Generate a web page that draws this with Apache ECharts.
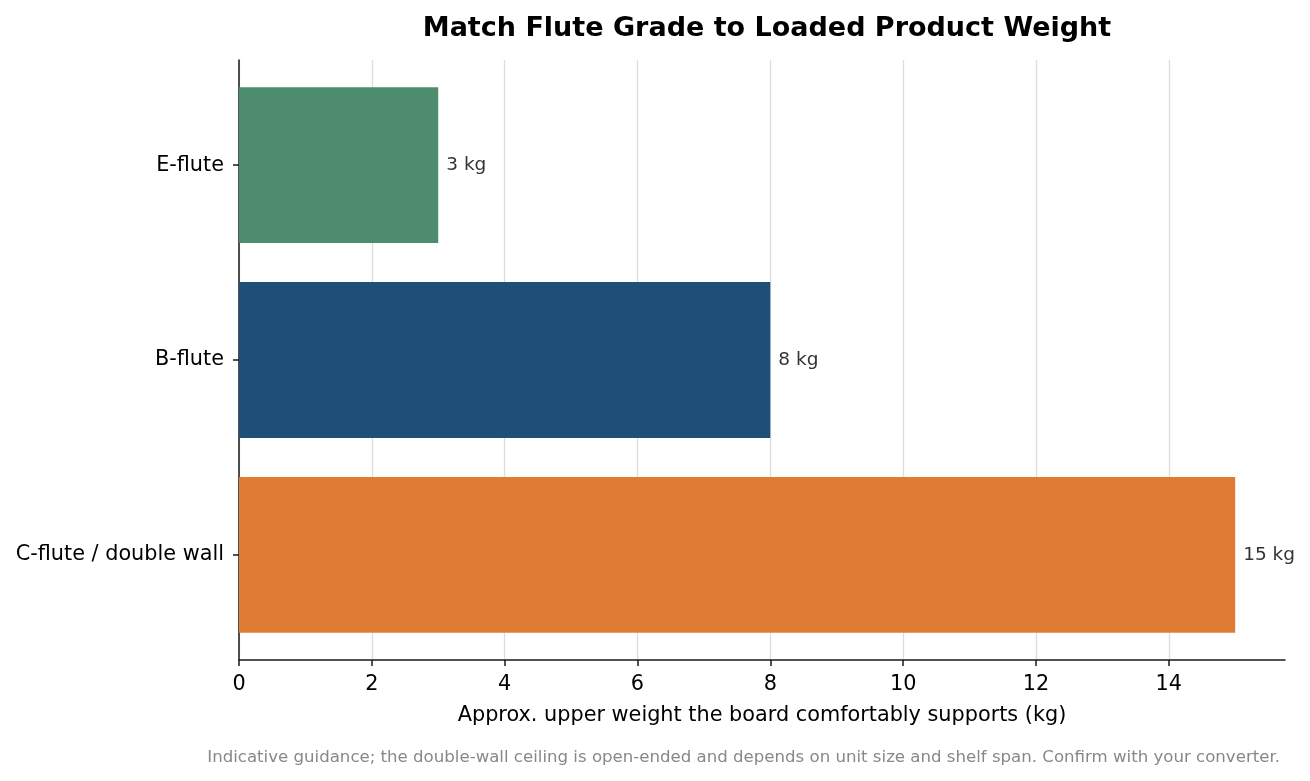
<!DOCTYPE html>
<html><head><meta charset="utf-8">
<script src="https://cdn.jsdelivr.net/npm/echarts@6/dist/echarts.min.js"></script>
<style>html,body{margin:0;padding:0;background:#fff}#c{width:1310px;height:781px}</style>
</head><body><div id="c"></div>
<script>
const categories = ['E-flute', 'B-flute', 'C-flute / double wall'];
const weights = [3, 8, 15];
const barColors = ['#4E8C6E', '#1F4E79', '#E07B33'];
const xTicks = [0, 2, 4, 6, 8, 10, 12, 14];

const chart = echarts.init(document.getElementById('c'), null, {renderer: 'canvas'});
const FONT = 'DejaVu Sans';
const data = weights.map((w, i) => [w, i]);

chart.setOption({
  animation: false,
  backgroundColor: '#fff',
  title: [{
    text: 'Match Flute Grade to Loaded Product Weight',
    left: 762, top: 10, textAlign: 'center',
    textStyle: {fontFamily: FONT, fontSize: 27, fontWeight: 'bold', color: '#000'}
  }, {
    text: 'Indicative guidance; the double-wall ceiling is open-ended and depends on unit size and shelf span. Confirm with your converter.',
    right: 25, top: 744,
    textStyle: {fontFamily: FONT, fontSize: 16.6, fontWeight: 'normal', color: '#888'}
  }],
  grid: {left: 239, right: 25, top: 60, bottom: 121, containLabel: false},
  xAxis: {
    type: 'value', min: 0, max: 15.75, interval: 2,
    name: 'Approx. upper weight the board comfortably supports (kg)',
    nameLocation: 'middle', nameGap: 45,
    nameTextStyle: {fontFamily: FONT, fontSize: 20.8, color: '#000'},
    axisLine: {show: true, onZero: false, lineStyle: {color: '#1a1a1a', width: 1.5}},
    axisTick: {show: true, inside: false, length: 6, lineStyle: {color: '#1a1a1a', width: 1.5}, customValues: xTicks},
    axisLabel: {fontFamily: FONT, fontSize: 20.8, color: '#000', margin: 14, customValues: xTicks,
      formatter: v => String(v)},
    splitLine: {show: true, lineStyle: {color: '#dddddd', width: 1.3}}
  },
  yAxis: {
    type: 'value', inverse: true, min: -0.54, max: 2.54,
    axisLine: {show: true, onZero: false, lineStyle: {color: '#1a1a1a', width: 1.5}},
    axisTick: {show: true, length: 6, lineStyle: {color: '#1a1a1a', width: 1.5}, customValues: [0, 1, 2]},
    axisLabel: {fontFamily: FONT, fontSize: 20.8, color: '#000', margin: 15, customValues: [0, 1, 2],
      formatter: v => categories[Math.round(v)] || ''},
    splitLine: {show: false}
  },
  series: [{
    type: 'custom',
    data: data,
    encode: {x: 0, y: 1},
    z: 3,
    renderItem: function (params, api) {
      const v = api.value(0), c = api.value(1);
      const start = api.coord([0, c]);
      const end = api.coord([v, c]);
      const h = Math.abs(api.size([0, 0.8])[1]);
      return {
        type: 'group',
        children: [{
          type: 'rect',
          shape: {x: start[0], y: start[1] - h / 2, width: end[0] - start[0], height: h},
          style: {fill: barColors[c]}
        }, {
          type: 'text',
          x: end[0] + 8, y: end[1],
          style: {text: v + ' kg', fontFamily: FONT, fontSize: 18.5, fill: '#333',
            textAlign: 'left', textVerticalAlign: 'middle'}
        }]
      };
    }
  }]
});
</script></body></html>
